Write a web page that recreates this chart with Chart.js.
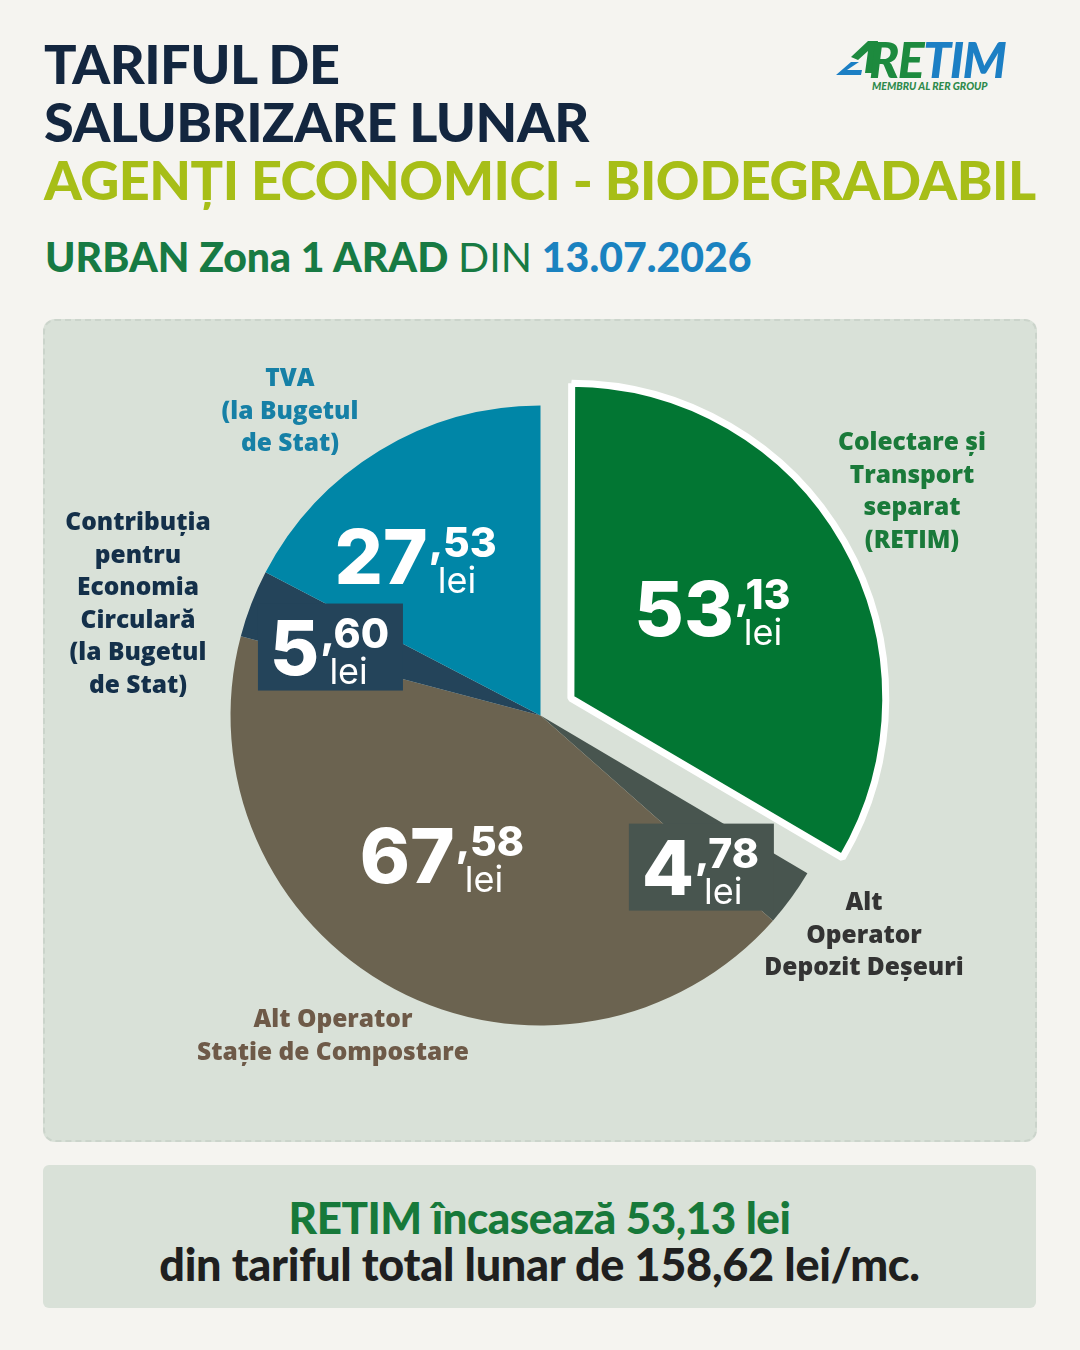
<!DOCTYPE html>
<html lang="ro">
<head>
<meta charset="utf-8">
<script src="https://cdn.jsdelivr.net/npm/chart.js@4/dist/chart.umd.min.js"></script>
<style>
  html, body { margin: 0; padding: 0; }
  body { width: 1080px; height: 1350px; position: relative; background: #f5f4f0; overflow: hidden; font-family: Lato, "Noto Sans", sans-serif; }
  .title { position: absolute; left: 44px; font-weight: 900; font-size: 54px; line-height: 1; letter-spacing: -0.5px; }
  .navy { color: #13263f; }
  .lime { color: #a7be17; }
  .sub { position: absolute; left: 45px; top: 236px; font-size: 41px; font-weight: 900; color: #177a43; line-height: 1; }
  .sub .din { font-weight: 400; }
  .sub .date { color: #1a82c0; }
  .panel { position: absolute; left: 43px; top: 319px; width: 990px; height: 819px; background: #d9e1d8; border: 2px dashed #cbd4cb; border-radius: 12px; }
  .bottom { position: absolute; left: 43px; top: 1165px; width: 993px; height: 143px; background: #d9e1d8; border-radius: 6px; text-align: center; }
  .bottom .l1 { position: absolute; left: 0; right: 0; top: 26px; font-size: 44px; font-weight: 900; color: #17793a; letter-spacing: -0.5px; }
  .bottom .l2 { position: absolute; left: 0; right: 0; top: 72px; font-size: 45px; font-weight: 900; color: #1f1f1f; letter-spacing: -0.3px; }
  canvas { position: absolute; left: 0; top: 0; }
  .lab { position: absolute; transform: translateX(-50%); text-align: center; white-space: pre-line; font-family: "Open Sans", Lato, sans-serif; font-weight: 800; font-size: 24.5px; line-height: 32.5px; }
  .logo { position: absolute; left: 836px; top: 38px; width: 200px; height: 60px; }
  .logo .word { position: absolute; left: 33px; top: -4px; font-size: 50px; font-weight: 900; font-style: italic; letter-spacing: -1.5px; line-height: 1; }
  .logo .word .re { color: #1d8a3e; }
  .logo .word .tim { color: #1c7fc4; }
  .logo .tag { position: absolute; left: 36px; top: 42px; font-size: 10.5px; font-weight: 900; font-style: italic; color: #2e8a4c; }
</style>
</head>
<body>
<div class="title navy" style="top:37px">TARIFUL DE</div>
<div class="title navy" style="top:95px">SALUBRIZARE LUNAR</div>
<div class="title lime" style="top:153px">AGENȚI ECONOMICI - BIODEGRADABIL</div>
<div class="sub">URBAN Zona 1 ARAD <span class="din">DIN</span> <span class="date">13.07.2026</span></div>

<div class="logo">
  <svg width="42" height="40" style="position:absolute;left:0;top:0" viewBox="0 0 42 40">
    <polygon points="0,37 15,24 23,24 11,32 26,32 25,37" fill="#1c7fc4"/>
    <polygon points="15,19 32,3 42,3 37,35 29,35 32,13 22,22" fill="#1d8a3e"/>
  </svg>
  <div class="word"><span class="re">RE</span><span class="tim">TIM</span></div>
  <div class="tag">MEMBRU AL RER GROUP</div>
</div>

<div class="panel"></div>
<div class="bottom">
  <div class="l1">RETIM încasează 53,13 lei</div>
  <div class="l2">din tariful total lunar de 158,62 lei/mc.</div>
</div>

<canvas id="pie" width="1080" height="1350" style="width:1080px;height:1350px"></canvas>
<div id="labels"></div>

<script>
// categories in drawing order, clockwise from 12 o'clock
const categories = [
  'Colectare și\nTransport\nseparat\n(RETIM)',
  'Alt\nOperator\nDepozit Deșeuri',
  'Alt Operator\nStație de Compostare',
  'Contribuția\npentru\nEconomia\nCirculară\n(la Bugetul\nde Stat)',
  'TVA\n(la Bugetul\nde Stat)'
];
const values = [53.13, 4.78, 67.58, 5.60, 27.53];
const valueLabels = ['53,13', '4,78', '67,58', '5,60', '27,53'];
const colors = ['#027633', '#48554f', '#6b6350', '#24445a', '#0086a7'];
const labelColors = ['#1a7a3a', '#333333', '#6e5a48', '#14304a', '#1680a6'];

// style: where the outside names sit, and small nudges for the value labels
const namePos = [[912, 425], [864, 885], [333, 1002], [138, 505], [290, 361]];
const valueShift = [[-23, 4], [35, 60], [-25, 3], [-66, -13], [-44, -27]];
const boxed = [false, true, false, true, false];

const nameLayer = document.getElementById('labels');
categories.forEach((c, i) => {
  const d = document.createElement('div');
  d.className = 'lab';
  d.textContent = c;
  d.style.left = namePos[i][0] + 'px';
  d.style.top = namePos[i][1] + 'px';
  d.style.color = labelColors[i];
  nameLayer.appendChild(d);
});

function drawValue(ctx, cx, cy, text) {
  const parts = text.split(',');
  const big = '800 76px Inter, Lato, sans-serif';
  const small = '800 41px Inter, Lato, sans-serif';
  const lei = '400 36px Inter, Lato, sans-serif';
  ctx.font = big;
  const w1 = ctx.measureText(parts[0]).width;
  ctx.font = small;
  const w2 = ctx.measureText(',' + parts[1]).width;
  const total = w1 + w2 + 2;
  const x0 = cx - total / 2;
  ctx.fillStyle = '#ffffff';
  ctx.textAlign = 'left';
  ctx.textBaseline = 'alphabetic';
  ctx.font = big;
  ctx.fillText(parts[0], x0, cy + 28);
  ctx.font = small;
  ctx.fillText(',' + parts[1], x0 + w1 + 1, cy + 1);
  ctx.font = lei;
  ctx.fillText('lei', x0 + w1 + 10, cy + 37);
}

const valueLabelPlugin = {
  id: 'valueLabels',
  afterDatasetsDraw(chart) {
    const ctx = chart.ctx;
    const meta = chart.getDatasetMeta(0);
    meta.data.forEach((arc, i) => {
      const p = arc.tooltipPosition();
      const cx = p.x + valueShift[i][0];
      const cy = p.y + valueShift[i][1];
      ctx.save();
      if (boxed[i]) {
        ctx.fillStyle = colors[i];
        ctx.fillRect(cx - 72, cy - 43, 145, 87);
      }
      drawValue(ctx, cx, cy, valueLabels[i]);
      ctx.restore();
    });
  }
};

// Chart.js draws an arc's offset at a quarter of its value, so 140 -> ~35px pull-out
new Chart(document.getElementById('pie'), {
  type: 'pie',
  data: {
    labels: categories,
    datasets: [{
      data: values,
      backgroundColor: colors,
      borderColor: '#ffffff',
      borderWidth: [7, 0, 0, 0, 0],
      hoverBorderWidth: [7, 0, 0, 0, 0],
      offset: [140, 0, 0, 0, 0],
      hoverOffset: 0
    }]
  },
  options: {
    responsive: false,
    animation: false,
    devicePixelRatio: 1,
    layout: { padding: { left: 157, right: 156, top: 332, bottom: 251 } },
    plugins: {
      legend: { display: false },
      tooltip: { enabled: false }
    },
    events: []
  },
  plugins: [valueLabelPlugin]
});
</script>
</body>
</html>
